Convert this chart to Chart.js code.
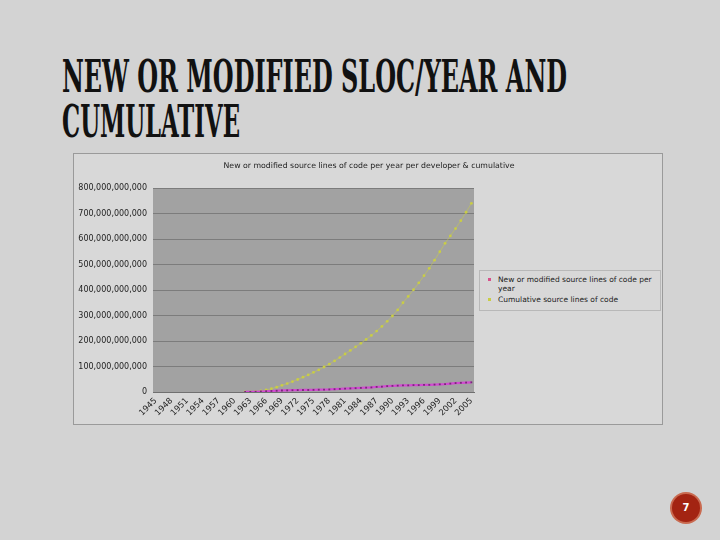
<!DOCTYPE html>
<html>
<head>
<meta charset="utf-8">
<script src="https://cdn.jsdelivr.net/npm/chart.js@4"></script>
<style>
  html, body { margin: 0; padding: 0; }
  body { width: 720px; height: 540px; background: #d3d3d3; position: relative; overflow: hidden; font-family: "DejaVu Sans", sans-serif; }
  .ttl { position: absolute; left: 62px; font-family: "DejaVu Serif Condensed", "DejaVu Serif", serif; font-weight: bold; font-size: 44px; line-height: 44px; color: #111; white-space: nowrap; transform-origin: 0 0; }
  #box { position: absolute; left: 73px; top: 153px; width: 588px; height: 270px; border: 1px solid #9a9a9a; background: #d8d8d8; }
  #wrap { position: absolute; left: 0; top: 0; width: 588px; height: 270px; }
  #legend { position: absolute; left: 405px; top: 116px; width: 180px; height: 39px; border: 1px solid #b8b8b8; background: #d8d8d8; font-size: 7.5px; color: #222; }
  .li { position: absolute; left: 18px; line-height: 9px; }
  .mk { position: absolute; left: 8px; width: 3px; height: 3px; }
  #pg { position: absolute; left: 672px; top: 494px; width: 28px; height: 28px; border-radius: 50%; background: #a32412; box-shadow: 0 0 0 2px #c96a50; color: #fff; font: bold 10px "DejaVu Sans", sans-serif; text-align: center; line-height: 28px; }
</style>
</head>
<body>
<div class="ttl" id="t1" style="top:55px">NEW OR MODIFIED SLOC/YEAR AND</div>
<div class="ttl" id="t2" style="top:100px">CUMULATIVE</div>
<div id="box">
  <div id="wrap"><canvas id="c" width="588" height="270"></canvas></div>
  <div id="legend"></div>
</div>
<div id="pg">7</div>
<script>
// ---- data ----
const years = [];
for (let y = 1945; y <= 2005; y++) years.push(String(y));

const chartTitle = 'New or modified source lines of code per year per developer & cumulative';
const seriesNames = [
  "New or modified source lines of code per year",
  "Cumulative source lines of code"
];

// New or modified SLOC per year (billions), 1962..2005; earlier years empty
const newPerYearB = [
  0.3, 0.5, 1, 2, 3, 4, 5, 6, 6.5, 7, 7.5, 8, 8, 8.5, 9, 9.5, 10, 11, 12, 13, 14,
  15, 16, 17, 18, 20, 21, 23, 24, 25, 26, 26, 27, 27, 28, 28, 29, 30, 31, 33, 35, 36, 37, 38
];
// Cumulative SLOC (billions), 1962..2005
const cumulativeB = [
  0.3, 0.8, 1.8, 4, 8, 13, 19, 26, 33, 41, 49, 58, 67, 77, 87, 98, 109, 122, 135, 149, 163,
  177, 191, 206, 222, 239, 257, 277, 298, 322, 350, 375, 401, 428, 456, 485, 517, 550, 583,
  612, 641, 672, 705, 740
];
const firstDataYear = 1962;

const yTicksMax = 800e9;
const yTickStep = 100e9;

// ---- build datasets ----
function padSeries(arrB) {
  const out = [];
  const lead = firstDataYear - 1945;
  for (let i = 0; i < lead; i++) out.push(null);
  arrB.forEach(v => out.push(v * 1e9));
  return out;
}

const colNew = '#d24ad2', colNewPt = '#7a2a7a';
const colCum = '#c9cd45';

const plotBg = {
  id: 'plotBg',
  beforeDraw(chart) {
    const {ctx, chartArea: a} = chart;
    ctx.save();
    ctx.fillStyle = '#a2a2a2';
    ctx.fillRect(a.left, a.top, a.right - a.left, a.bottom - a.top);
    ctx.restore();
  },
  afterDraw(chart) {
    const ctx = chart.ctx;
    ctx.save();
    ctx.fillStyle = '#222';
    ctx.font = '7.8px "DejaVu Sans"';
    ctx.textAlign = 'center';
    ctx.textBaseline = 'middle';
    ctx.fillText(chartTitle, 295, 12);
    ctx.restore();
  }
};

new Chart(document.getElementById('c'), {
  type: 'line',
  data: {
    labels: years,
    datasets: [
      { label: seriesNames[0], data: padSeries(newPerYearB), borderColor: colNew, backgroundColor: colNewPt,
        borderWidth: 2.2, pointRadius: 1.3, pointStyle: 'rect', pointBorderWidth: 0, tension: 0, order: 0 },
      { label: seriesNames[1], data: padSeries(cumulativeB), borderColor: 'rgba(201,205,69,0.5)', backgroundColor: colCum,
        borderWidth: 1, pointRadius: 1.4, pointBorderWidth: 0, tension: 0, order: 1 }
    ]
  },
  options: {
    animation: false,
    responsive: false,
    devicePixelRatio: 1,
    layout: { padding: { left: 0, right: 188, top: 34, bottom: 0 } },
    plugins: {
      legend: { display: false },
      tooltip: { enabled: false },
      title: { display: false }
    },
    scales: {
      x: {
        offset: true,
        grid: { display: false, drawTicks: false },
        border: { display: true, color: '#707070' },
        afterFit(s) { s.height = 32; },
        ticks: {
          autoSkip: false, minRotation: 45, maxRotation: 45, padding: 4,
          color: '#222', font: { family: 'DejaVu Sans', size: 8.3 },
          callback(v, i) { return (i % 3 === 0) ? years[i] : ''; }
        }
      },
      y: {
        min: 0, max: yTicksMax,
        grid: { color: '#7c7c7c', drawTicks: false },
        border: { display: false },
        afterFit(s) { s.width = 79; },
        ticks: {
          stepSize: yTickStep, padding: 6, color: '#222', font: { family: 'DejaVu Sans', size: 8 },
          callback(v) { return Number(v).toLocaleString('en-US'); }
        }
      }
    }
  },
  plugins: [plotBg]
});

// legend (HTML, from series names)
const lg = document.getElementById('legend');
const lgItems = [
  { text: 'New or modified source lines of code per<br>year', col: '#d8508a', top: 4 },
  { text: seriesNames[1], col: colCum, top: 24 }
];
lgItems.forEach(it => {
  const t = document.createElement('div'); t.className = 'li'; t.style.top = it.top + 'px'; t.innerHTML = it.text; lg.appendChild(t);
  const m = document.createElement('div'); m.className = 'mk'; m.style.top = (it.top + 3) + 'px'; m.style.background = it.col; lg.appendChild(m);
});

// fit title lines to reference widths
function fit(id, w) {
  const el = document.getElementById(id);
  const r = el.getBoundingClientRect().width;
  el.style.transform = 'scaleX(' + (w / r) + ')';
}
fit('t1', 505);
fit('t2', 178);
</script>
</body>
</html>
